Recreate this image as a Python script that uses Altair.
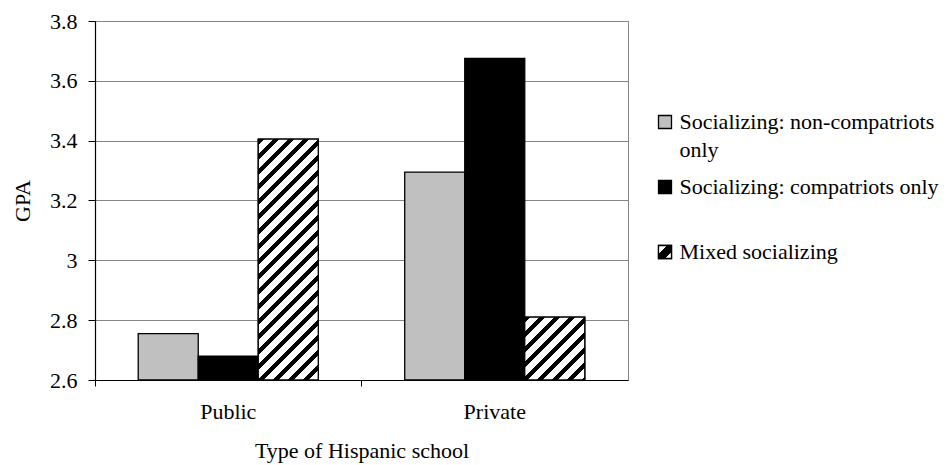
import altair as alt
import pandas as pd

# GPA by type of Hispanic school and socializing pattern
schools = ["Public", "Private"]
groups = [
    "Socializing: non-compatriots only",
    "Socializing: compatriots only",
    "Mixed socializing",
]
legend_labels = [
    "Socializing: non-compatriots\nonly",
    "Socializing: compatriots only",
    "Mixed socializing",
]
public_gpa = [2.755, 2.68, 3.405]
private_gpa = [3.295, 3.675, 2.81]
y_ticks = [2.6, 2.8, 3.0, 3.2, 3.4, 3.6, 3.8]
group_colors = ["#c0c0c0", "#000000", "#ffffff"]

rows = []
for school, vals in zip(schools, [public_gpa, private_gpa]):
    for g, v in zip(groups, vals):
        rows.append({"school": school, "group": g, "gpa": v})
df = pd.DataFrame(rows)
legend_df = pd.DataFrame({"group": groups, "label": legend_labels})

FONT = "Liberation Serif, Times New Roman, Times, DejaVu Serif, serif"
FS = 22
GRID = "#868686"
W_PLOT, H_PLOT = 533, 359
Y_MIN, Y_MAX = y_ticks[0], y_ticks[-1]
band = W_PLOT / len(schools)
pad_outer = 0.72
bar_w = band / (len(groups) + 2 * pad_outer)

# legend placement (pixels from the plot's top-left corner)
LEG_X = 570
LEG_Y = [101, 231]
SYM = 13


def stripes(w, h, period, ink):
    """Diagonal '/' stripes as a hard-stop linear gradient for a w x h box."""
    r = w / h
    b = (r + 1) / (r * r + 1)
    a = r * b
    span = w + h
    offs = []
    t = 0.0
    while t < span:
        e = min(t + ink * period, span)
        n = min(t + period, span)
        offs += [(t, "black"), (e, "black"), (e, "white"), (n, "white")]
        t += period
    stops = [{"offset": round(o / span, 6), "color": c} for o, c in offs]
    return {"gradient": "linear", "x1": 0, "y1": 0, "x2": a, "y2": b, "stops": stops}


def bar_hatch(value):
    h = (value - Y_MIN) / (Y_MAX - Y_MIN) * H_PLOT
    return stripes(bar_w, h, 15.0, 0.4)


# small legend swatch: one thick '/' band across the square
swatch_hatch = {
    "gradient": "linear",
    "x1": 0, "y1": 0, "x2": 1, "y2": 1,
    "stops": [
        {"offset": 0, "color": "white"},
        {"offset": 0.33, "color": "white"},
        {"offset": 0.33, "color": "black"},
        {"offset": 0.74, "color": "black"},
        {"offset": 0.74, "color": "white"},
        {"offset": 1, "color": "white"},
    ],
}

x_enc = alt.X(
    "school:N",
    sort=schools,
    scale=alt.Scale(paddingInner=0, paddingOuter=0),
    axis=alt.Axis(
        title="Type of Hispanic school",
        bandPosition=0,
        labelAngle=0,
        labelPadding=15,
        labelFont=FONT,
        labelFontSize=FS,
        labelColor="black",
        tickSize=6,
        tickColor="black",
        domainColor="black",
        domainWidth=1.2,
        grid=False,
        titleFont=FONT,
        titleFontSize=FS,
        titleFontWeight="normal",
        titleColor="black",
        titleX=W_PLOT / 2,
        titleY=77,
        titleBaseline="alphabetic",
    ),
)
xoff_enc = alt.XOffset(
    "group:N", sort=groups, scale=alt.Scale(paddingInner=0, paddingOuter=pad_outer)
)
y_enc = alt.Y(
    "gpa:Q",
    scale=alt.Scale(domain=[Y_MIN, Y_MAX], nice=False, zero=False),
    axis=alt.Axis(
        title="GPA",
        values=y_ticks,
        format=".1~f",
        labelFont=FONT,
        labelFontSize=FS,
        labelColor="black",
        labelPadding=11,
        tickSize=7,
        tickColor="black",
        domainColor="black",
        domainWidth=1.2,
        grid=True,
        gridColor=GRID,
        gridWidth=1,
        titleFont=FONT,
        titleFontSize=FS,
        titleFontWeight="normal",
        titleColor="black",
        titleAngle=270,
        titleX=-73,
        titleY=H_PLOT / 2,
        titleAlign="center",
        titleBaseline="middle",
    ),
)
y2_enc = alt.Y2(datum=Y_MIN)
fill_enc = alt.Fill(
    "group:N",
    sort=groups,
    scale=alt.Scale(domain=groups, range=group_colors),
    legend=None,
)

base = alt.Chart(df)

bars = base.mark_bar(stroke="black", strokeWidth=1.3).encode(
    x=x_enc, xOffset=xoff_enc, y=y_enc, y2=y2_enc, fill=fill_enc
)

# Hatched bars for mixed socializing, one layer per school
hatched = []
for school, vals in zip(schools, [public_gpa, private_gpa]):
    hatched.append(
        base.transform_filter(
            (alt.datum.school == school) & (alt.datum.group == groups[2])
        )
        .mark_bar(fill=bar_hatch(vals[2]), stroke="black", strokeWidth=1.3)
        .encode(x=x_enc, xOffset=xoff_enc, y=y_enc, y2=y2_enc)
    )

plot = alt.layer(bars, *hatched)

# Legend drawn from its own small table
leg_y = alt.Y(
    "group:N",
    sort=groups,
    scale=alt.Scale(range=LEG_Y, padding=0),
    axis=None,
)
leg_base = alt.Chart(legend_df)
leg_symbols = leg_base.mark_square(
    size=SYM * SYM, stroke="black", strokeWidth=1.3, opacity=1
).encode(x=alt.value(LEG_X), y=leg_y, fill=fill_enc)
leg_hatch = (
    leg_base.transform_filter(alt.datum.group == groups[2])
    .mark_square(
        size=SYM * SYM,
        stroke="black",
        strokeWidth=1.3,
        opacity=1,
        fill=swatch_hatch,
    )
    .encode(x=alt.value(LEG_X), y=leg_y)
)
leg_text = leg_base.mark_text(
    align="left",
    baseline="alphabetic",
    dy=7,
    lineBreak="\n",
    lineHeight=28,
    font=FONT,
    fontSize=FS,
    color="black",
).encode(x=alt.value(LEG_X + SYM / 2 + 8), y=leg_y, text="label:N")
legend = alt.layer(leg_symbols, leg_hatch, leg_text)

chart = (
    alt.layer(plot, legend)
    .resolve_scale(y="independent")
    .properties(
        width=W_PLOT,
        height=H_PLOT,
        autosize=alt.AutoSizeParams(type="none"),
        padding={"left": 95, "top": 21, "right": 950 - 95 - W_PLOT, "bottom": 465 - 21 - H_PLOT},
        background="white",
    )
    .configure_view(stroke=GRID, strokeWidth=1)
)

chart.save("out.html", embed_options={"renderer": "svg", "actions": False})
